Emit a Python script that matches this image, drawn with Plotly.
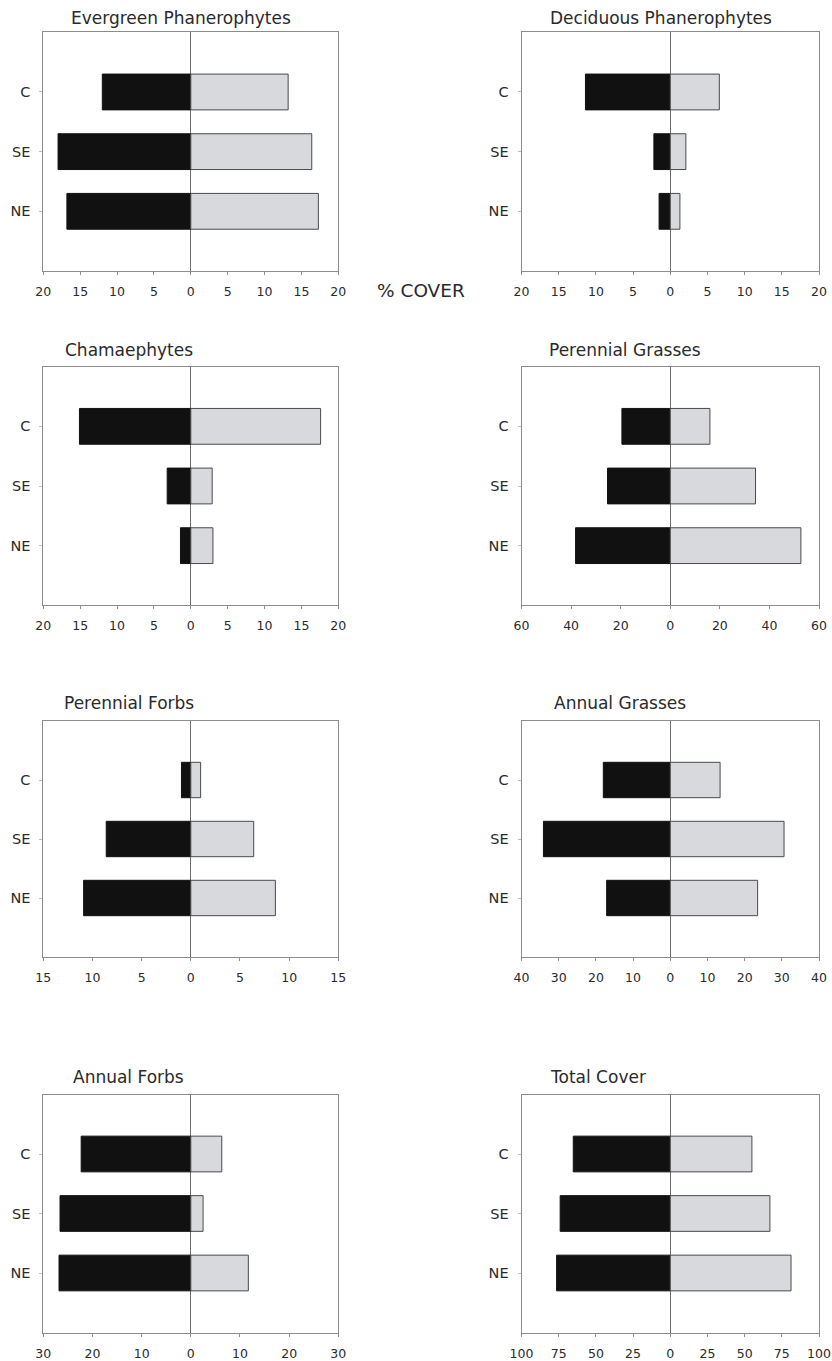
import plotly.graph_objects as go

# Sites, top to bottom
sites = ["C", "SE", "NE"]

titles = [
    "Evergreen Phanerophytes", "Deciduous Phanerophytes",
    "Chamaephytes", "Perennial Grasses",
    "Perennial Forbs", "Annual Grasses",
    "Annual Forbs", "Total Cover",
]

# % cover per site: dark series (left of zero) and light series (right of zero)
evergreen_dark = [12.0, 18.0, 16.8]
evergreen_light = [13.2, 16.4, 17.3]
deciduous_dark = [11.4, 2.2, 1.5]
deciduous_light = [6.6, 2.1, 1.3]
chamaephyte_dark = [15.1, 3.2, 1.4]
chamaephyte_light = [17.6, 2.9, 3.0]
per_grass_dark = [19.5, 25.3, 38.2]
per_grass_light = [16.0, 34.4, 52.7]
per_forb_dark = [0.95, 8.6, 10.9]
per_forb_light = [1.0, 6.4, 8.6]
ann_grass_dark = [18.0, 34.1, 17.1]
ann_grass_light = [13.4, 30.6, 23.5]
ann_forb_dark = [22.3, 26.6, 26.8]
ann_forb_light = [6.3, 2.5, 11.7]
total_dark = [65.2, 74.0, 76.4]
total_light = [54.9, 67.0, 81.2]

# Tick positions for each panel's cover axis (labels show magnitudes)
ticks_pm20 = [-20, -15, -10, -5, 0, 5, 10, 15, 20]
ticks_pm60 = [-60, -40, -20, 0, 20, 40, 60]
ticks_pm15 = [-15, -10, -5, 0, 5, 10, 15]
ticks_pm40 = [-40, -30, -20, -10, 0, 10, 20, 30, 40]
ticks_pm30 = [-30, -20, -10, 0, 10, 20, 30]
ticks_pm100 = [-100, -75, -50, -25, 0, 25, 50, 75, 100]

panels = [
    (evergreen_dark, evergreen_light, ticks_pm20),
    (deciduous_dark, deciduous_light, ticks_pm20),
    (chamaephyte_dark, chamaephyte_light, ticks_pm20),
    (per_grass_dark, per_grass_light, ticks_pm60),
    (per_forb_dark, per_forb_light, ticks_pm15),
    (ann_grass_dark, ann_grass_light, ticks_pm40),
    (ann_forb_dark, ann_forb_light, ticks_pm30),
    (total_dark, total_light, ticks_pm100),
]

W, H = 832, 1361
FONT = "DejaVu Sans"
TEXT = "#2a2a2a"
FRAME = "#8c8c8c"
DARK = "#111111"
LIGHT = "#d7d9dd"

# Plot-box pixel extents
col_px = [(43.3, 338.3), (521.5, 819.0)]
row_px = [(32.3, 271.0), (366.7, 605.3), (721.0, 957.0), (1094.5, 1332.5)]
title_px = [(181, 18), (661, 18), (129, 350), (625, 350),
            (129, 703), (620, 703), (128, 1077), (598, 1077)]


def fx(px):
    return px / W


def fy(py):
    return 1 - py / H


fig = go.Figure()
layout = dict(
    width=W, height=H,
    margin=dict(l=0, r=0, t=0, b=0, autoexpand=False),
    paper_bgcolor="white", plot_bgcolor="white",
    barmode="relative", bargap=0.4,
    showlegend=False,
    font=dict(family=FONT, color=TEXT),
)
annotations = []

for i, (dark, light, ticks) in enumerate(panels):
    r, c = divmod(i, 2)
    n = "" if i == 0 else str(i + 1)
    xa, ya = "x" + n, "y" + n

    fig.add_trace(go.Bar(
        y=sites, x=[-v for v in dark], orientation="h",
        xaxis=xa, yaxis=ya, width=0.6,
        marker=dict(color=DARK, line=dict(color=DARK, width=1)),
    ))
    fig.add_trace(go.Bar(
        y=sites, x=light, orientation="h",
        xaxis=xa, yaxis=ya, width=0.6,
        marker=dict(color=LIGHT, line=dict(color="#4a4a4a", width=1)),
    ))

    x0, x1 = col_px[c]
    top, bot = row_px[r]
    layout["xaxis" + n] = dict(
        domain=[fx(x0), fx(x1)], anchor=ya, automargin=False,
        range=[ticks[0], ticks[-1]],
        tickmode="array", tickvals=ticks,
        ticktext=[str(abs(t)) for t in ticks],
        showline=True, mirror=True, linecolor=FRAME, linewidth=1,
        showgrid=False,
        zeroline=True, zerolinecolor="#6e6e6e", zerolinewidth=1,
        ticks="outside", ticklen=3, tickcolor=FRAME,
        ticklabelstandoff=6,
        tickfont=dict(family=FONT, size=12.5, color=TEXT),
        fixedrange=True,
    )
    layout["yaxis" + n] = dict(
        domain=[fy(bot), fy(top)], anchor=xa, automargin=False,
        type="category", categoryorder="array", categoryarray=sites,
        range=[3, -1],
        showline=True, mirror=True, linecolor=FRAME, linewidth=1,
        showgrid=False, zeroline=False,
        ticks="outside", ticklen=3, tickcolor="#bbbbbb",
        ticklabelstandoff=6,
        tickfont=dict(family=FONT, size=14.5, color=TEXT),
        fixedrange=True,
    )

    tx, ty = title_px[i]
    annotations.append(dict(
        text=titles[i], x=fx(tx), y=fy(ty), xref="paper", yref="paper",
        xanchor="center", yanchor="middle", showarrow=False,
        font=dict(family=FONT, size=17, color=TEXT),
    ))

annotations.append(dict(
    text="% COVER", x=fx(421), y=fy(290), xref="paper", yref="paper",
    xanchor="center", yanchor="middle", showarrow=False,
    font=dict(family=FONT, size=18.5, color=TEXT),
))
layout["annotations"] = annotations

fig.update_layout(**layout)
fig.write_html("out.html")
